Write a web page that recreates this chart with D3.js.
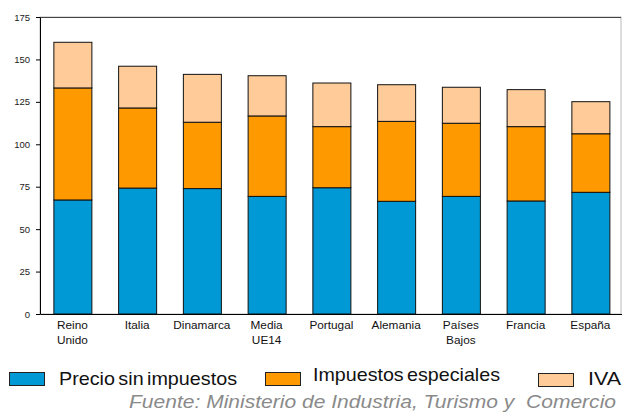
<!DOCTYPE html>
<html>
<head>
<meta charset="utf-8">
<script src="https://cdn.jsdelivr.net/npm/d3@7"></script>
<style>
  html, body { margin: 0; padding: 0; background: #fff; }
  svg { display: block; font-family: "Liberation Sans", Arial, sans-serif; }
</style>
</head>
<body>
<svg id="chart" width="622" height="413"></svg>
<script>
// Price breakdown per country (cents €/litre)
const countries = [["Reino", "Unido"], ["Italia"], ["Dinamarca"], ["Media", "UE14"], ["Portugal"],
                   ["Alemania"], ["Países", "Bajos"], ["Francia"], ["España"]];
const precioSinImpuestos = [67.2, 74.2, 73.9, 69.3, 74.4, 66.4, 69.3, 66.6, 71.7];
const impuestosEspeciales = [66.0, 47.2, 39.1, 47.4, 36.0, 47.1, 43.1, 43.8, 34.5];
const iva = [26.9, 24.6, 28.2, 23.7, 25.7, 21.6, 21.2, 21.8, 18.9];
const yTicks = [0, 25, 50, 75, 100, 125, 150, 175];
const seriesNames = ["Precio sin impuestos", "Impuestos especiales", "IVA"];
const seriesColors = ["#0099d6", "#ff9900", "#ffcc99"];

const svg = d3.select("#chart");
const plotLeft = 40, plotRight = 621, plotTop = 17, plotBottom = 314;

const keys = countries.map(c => c.join(" "));
const rows = keys.map((k, i) => ({
  key: k,
  s0: precioSinImpuestos[i],
  s1: impuestosEspeciales[i],
  s2: iva[i]
}));

const x = d3.scaleBand()
  .domain(keys)
  .range([plotLeft, 622.75])
  .paddingInner(0.413)
  .paddingOuter(0.2065);

const y = d3.scaleLinear().domain([0, 175]).range([plotBottom, plotTop]);

const stack = d3.stack().keys(["s0", "s1", "s2"]);
const layers = stack(rows);

// plot frame
svg.append("rect")
  .attr("x", plotLeft).attr("y", plotTop)
  .attr("width", plotRight - plotLeft).attr("height", plotBottom - plotTop)
  .attr("fill", "none").attr("stroke", "#bbb").attr("stroke-width", 1);
svg.append("line")
  .attr("x1", plotLeft).attr("x2", plotRight).attr("y1", plotTop + 0.5).attr("y2", plotTop + 0.5)
  .attr("stroke", "#444");

// stacked bars
svg.append("g").selectAll("g")
  .data(layers)
  .join("g")
  .attr("fill", (d, i) => seriesColors[i])
  .selectAll("rect")
  .data(d => d)
  .join("rect")
  .attr("x", d => x(d.data.key) + 0.5)
  .attr("y", d => y(d[1]))
  .attr("width", x.bandwidth())
  .attr("height", d => y(d[0]) - y(d[1]))
  .attr("stroke", "#111")
  .attr("stroke-width", 1);

// y axis
const yAxis = svg.append("g")
  .attr("transform", `translate(${plotLeft},0)`)
  .call(d3.axisLeft(y).tickValues(yTicks).tickSize(4).tickPadding(6).tickSizeOuter(0));
yAxis.select(".domain").attr("stroke", "#000");
yAxis.selectAll(".tick line").attr("stroke", "#000");
yAxis.selectAll(".tick text")
  .attr("font-size", "9.5px")
  .attr("fill", "#222")
  .style("font-family", "'Liberation Sans', Arial, sans-serif");

// x axis line
const xAxis = svg.append("g")
  .attr("transform", `translate(0,${plotBottom})`)
  .call(d3.axisBottom(x).tickSize(0).tickFormat(""));
xAxis.select(".domain").attr("stroke", "#000");

// category labels (two lines where needed)
const labels = svg.append("g")
  .attr("font-size", "11.8px")
  .attr("fill", "#111")
  .attr("text-anchor", "middle");
countries.forEach((lines, i) => {
  const cx = x(keys[i]) + x.bandwidth() / 2;
  const t = labels.append("text").attr("x", cx).attr("y", 329);
  lines.forEach((ln, j) => {
    t.append("tspan")
      .attr("x", cx)
      .attr("dy", j === 0 ? 0 : 15)
      .text(ln);
  });
});

// legend
const legendItems = [
  { sx: 9, sy: 372, tx: 59, ty: 385, w: 178 },
  { sx: 265, sy: 372, tx: 313, ty: 381, w: 187 },
  { sx: 538, sy: 373, tx: 588, ty: 385, w: 33 }
];
const legend = svg.append("g");
legendItems.forEach((p, i) => {
  legend.append("rect")
    .attr("x", p.sx + 0.5).attr("y", p.sy + 0.5)
    .attr("width", 35).attr("height", 13)
    .attr("fill", seriesColors[i])
    .attr("stroke", "#222").attr("stroke-width", 1);
  legend.append("text")
    .attr("x", p.tx).attr("y", p.ty)
    .attr("font-size", "19px")
    .attr("word-spacing", "-2px")
    .attr("textLength", p.w)
    .attr("lengthAdjust", "spacingAndGlyphs")
    .attr("fill", "#111")
    .text(seriesNames[i]);
});

// source note
svg.append("text")
  .attr("x", 129).attr("y", 408)
  .attr("font-size", "18px")
  .attr("font-style", "italic")
  .attr("fill", "#8a8a8a")
  .attr("textLength", 487)
  .attr("lengthAdjust", "spacingAndGlyphs")
  .style("white-space", "pre")
  .text("Fuente: Ministerio de Industria, Turismo y  Comercio");
</script>
</body>
</html>
